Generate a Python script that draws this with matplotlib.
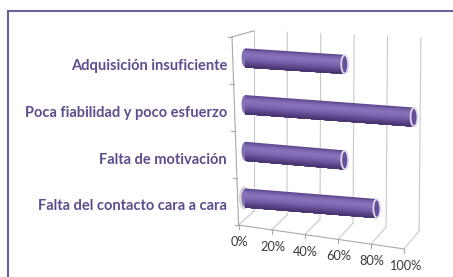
"""Pseudo-3D cylinder bar chart (Excel style) of reasons, in percent."""

import matplotlib

matplotlib.use("Agg")
import matplotlib.pyplot as plt
import numpy as np
from matplotlib.colors import LinearSegmentedColormap
from matplotlib.patches import Ellipse, Rectangle
from matplotlib.transforms import Affine2D

# --- data -------------------------------------------------------------------
categories = [
    "Falta del contacto cara a cara",
    "Falta de motivación",
    "Poca fiabilidad y poco esfuerzo",
    "Adquisición insuficiente",
]
values = [78, 59, 100, 59]
ticks = [0, 20, 40, 60, 80, 100]
tick_labels = ["0%", "20%", "40%", "60%", "80%", "100%"]

# --- layout / style ---------------------------------------------------------
W, H = 453, 277
X0_PX, PX_PER_PCT = 245, 1.69   # pixel column of 0 %, pixels per percent
Y0_PX, PX_PER_CAT = 198, 46.7   # pixel row of first category, row spacing

# box (walls + floor) in data units: (percent, category rows)
FRONT_FLOOR = [(-3.8, -0.58), (94.1, -1.09)]
BACK_FLOOR = [(5.3, -0.28), (103.0, -0.71)]
BACK_TOP = [(5.3, 3.58), (104.1, 3.43)]
FRONT_TOP_LEFT = (-7.7, 3.45)

SLOPES = [0.080, 0.087, 0.074, 0.065]   # perspective droop per bar (px/px)
THICK = 0.41                             # cylinder diameter, in rows
CAP_W = 4.1                              # end-cap ellipse width, in percent
LABEL_COLOR = "#5e4c8e"
GRID_COLOR = "#c9c9c9"
EDGE_COLOR = "#a8a8a8"
BODY = LinearSegmentedColormap.from_list(
    "tube", ["#5c4890", "#7d68b0", "#8a75bc", "#7f69b2", "#6f59a2", "#5a4589", "#45346d"]
)


def lerp(seg, t):
    (x0, y0), (x1, y1) = seg
    return x0 + (x1 - x0) * t, y0 + (y1 - y0) * t


fig = plt.figure(figsize=(W / 100, H / 100), dpi=100)
ax = fig.add_axes([0, 0, 1, 1])
ax.set_xlim(-X0_PX / PX_PER_PCT, (W - X0_PX) / PX_PER_PCT)
ax.set_ylim((Y0_PX - H) / PX_PER_CAT, Y0_PX / PX_PER_CAT)
ax.axis("off")

# outer frame
fig.patches.append(
    Rectangle((8 / W, -0.1), 2, 1.1 - 11 / H, transform=fig.transFigure,
              fill=False, edgecolor="#6e5f98", linewidth=1.5)
)

# back wall gridlines and floor lines
for v, lab in zip(ticks, tick_labels):
    t = v / 100
    bx, by = lerp(BACK_FLOOR, t)
    tx, ty = lerp(BACK_TOP, t)
    fx, fy = lerp(FRONT_FLOOR, t)
    ax.plot([bx, tx], [by, ty], color=GRID_COLOR, lw=0.8, zorder=1)
    ax.plot([fx, bx], [fy, by], color=GRID_COLOR, lw=0.8, zorder=1)
    ax.plot([fx, fx], [fy, fy - 0.08], color=EDGE_COLOR, lw=0.8, zorder=1)
    ax.annotate(lab, xy=(fx, fy), xytext=(1, -21), textcoords="offset pixels",
                ha="center", va="baseline", fontsize=9.2, color="#3a3a3a", family="Lato")

# front floor edge and left wall
ax.plot(*zip(*FRONT_FLOOR), color=EDGE_COLOR, lw=0.8, zorder=1)
ax.plot([FRONT_FLOOR[0][0], FRONT_TOP_LEFT[0]], [FRONT_FLOOR[0][1], FRONT_TOP_LEFT[1]],
        color=EDGE_COLOR, lw=0.8, zorder=1)
ax.plot([FRONT_TOP_LEFT[0], BACK_TOP[0][0]], [FRONT_TOP_LEFT[1], BACK_TOP[0][1]],
        color=EDGE_COLOR, lw=0.8, zorder=1)
for h in np.linspace(0, 1, 5):
    lx, ly = lerp([FRONT_FLOOR[0], FRONT_TOP_LEFT], h)
    ax.plot([lx, lx - 2.4], [ly, ly], color=EDGE_COLOR, lw=0.8, zorder=1)

# cylinders: shaded by stacking ever-thinner bars from the top down
n_strips = 24
for i, (cat, val) in enumerate(zip(categories, values)):
    kd = SLOPES[i] * PX_PER_PCT / PX_PER_CAT
    skew = Affine2D(np.array([[1, 0, 0], [-kd, 1, 0], [0, 0, 1]])) + ax.transData

    if i == 0:
        ax.add_patch(Ellipse((-0.4, i), CAP_W * 1.6, THICK * 1.2, facecolor="#d6d6d6",
                             edgecolor="none", transform=skew, zorder=2))
    ax.add_patch(Ellipse((0, i), CAP_W, THICK * 0.96, facecolor=BODY(0.4),
                         edgecolor="none", transform=skew, zorder=3))
    bottom = i - THICK / 2
    heights = THICK - np.arange(n_strips) * THICK / n_strips
    bars = ax.barh(bottom + heights / 2, val, height=heights,
                   color=[BODY(j / (n_strips - 1)) for j in range(n_strips)],
                   linewidth=0, zorder=4)
    for p in bars:
        p.set_transform(skew)
    ax.add_patch(Ellipse((val, i), CAP_W, THICK * 0.97, facecolor="#65509a",
                         edgecolor="#e0daec", linewidth=1.3, transform=skew, zorder=5))

    ax.annotate(cat, xy=(0, i), xytext=(-18, -12.4), textcoords="offset pixels",
                ha="right", va="baseline", fontsize=10.5, fontweight="bold",
                color=LABEL_COLOR, family="Lato")

fig.savefig("out.png", dpi=100, facecolor="white")
